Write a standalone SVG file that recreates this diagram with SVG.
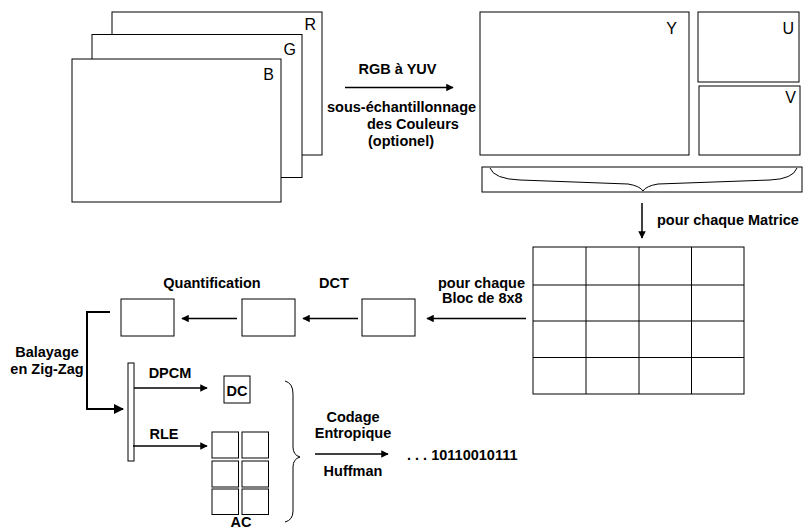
<svg xmlns="http://www.w3.org/2000/svg" width="804" height="529" viewBox="0 0 804 529">
<defs>
<style>
.box{fill:#fff;stroke:#000;stroke-width:1}
.ln{fill:none;stroke:#000;stroke-width:1}
.lbl{font-family:"Liberation Sans",Arial,sans-serif;font-size:16px;fill:#000}
.b{font-family:"Liberation Sans",Arial,sans-serif;font-size:14.5px;font-weight:bold;fill:#000}
.c{text-anchor:middle}
.arr{fill:none;stroke:#000;stroke-width:1.5;marker-end:url(#ah)}
</style>
<marker id="ah" viewBox="0 0 10 10" refX="9" refY="5" markerWidth="6.5" markerHeight="5" orient="auto" markerUnits="strokeWidth">
<path d="M0,0 L10,5 L0,10 z" fill="#000"/>
</marker>
</defs>
<rect width="804" height="529" fill="#fff"/>

<g id="rgb">
<rect class="box" x="112" y="12" width="210" height="143"/>
<text class="lbl" x="316" y="30" text-anchor="end">R</text>
<rect class="box" x="92" y="34.5" width="210" height="143"/>
<text class="lbl" x="296" y="54.5" text-anchor="end">G</text>
<rect class="box" x="72" y="59" width="209" height="143"/>
<text class="lbl" x="274" y="79.5" text-anchor="end">B</text>
</g>

<g id="yuv">
<rect class="box" x="480" y="12" width="209" height="143"/>
<text class="lbl" x="677" y="33.5" text-anchor="end">Y</text>
<rect class="box" x="698" y="12" width="101" height="70"/>
<text class="lbl" x="794" y="33.5" text-anchor="end">U</text>
<rect class="box" x="699" y="86" width="101" height="69"/>
<text class="lbl" x="796" y="103" text-anchor="end">V</text>
</g>

<g id="brace-box">
<rect class="box" x="482" y="167" width="320" height="25"/>
<path class="ln" d="M490,168 Q494,179 520,180 L628,184 Q640,186 643,191 Q646,186 658,184 L770,180 Q793,179 797,168"/>
</g>

<g id="grid">
<rect class="box" x="533" y="247" width="211" height="147"/>
<path class="ln" d="M586,247 V394 M639,247 V394 M691.5,247 V394 M533,285 H744 M533,321 H744 M533,357.5 H744"/>
</g>

<g id="block3"><rect class="box" x="362" y="299" width="53" height="37"/></g>
<g id="block2"><rect class="box" x="242" y="299" width="53" height="37"/></g>
<g id="block1"><rect class="box" x="121" y="299" width="53" height="37"/></g>

<g id="bar"><rect class="box" x="128" y="363" width="6" height="98"/></g>

<g id="dc">
<rect class="box" x="224" y="376" width="26" height="27"/>
<text class="b c" x="237" y="396">DC</text>
</g>

<g id="ac">
<rect class="box" x="212" y="432" width="26.5" height="26"/>
<rect class="box" x="242" y="432" width="26.5" height="26"/>
<rect class="box" x="212" y="461" width="26.5" height="26"/>
<rect class="box" x="242" y="461" width="26.5" height="26"/>
<rect class="box" x="212" y="489" width="26.5" height="25.5"/>
<rect class="box" x="242" y="489" width="26.5" height="25.5"/>
<text class="b c" x="241" y="527">AC</text>
</g>

<g id="big-brace">
<path class="ln" d="M285,381 Q293,383 293,394 L293,447 Q293,455 300,457 Q293,459 293,467 L293,511 Q293,520 285,522"/>
</g>

<g id="connectors">
<line class="arr" x1="345" y1="87.5" x2="453" y2="87.5"/>
<line class="arr" x1="642" y1="203" x2="642" y2="238"/>
<line class="arr" x1="526" y1="318.5" x2="427" y2="318.5"/>
<line class="arr" x1="358" y1="318.5" x2="303" y2="318.5"/>
<line class="arr" x1="237" y1="318.5" x2="182" y2="318.5"/>
<polyline points="110,312 87,312 87,409 123,409" fill="none" stroke="#000" stroke-width="2" marker-end="url(#ah)"/>
<line class="arr" x1="134" y1="388" x2="207" y2="388"/>
<line class="arr" x1="133" y1="446" x2="207" y2="446"/>
<line class="arr" x1="315" y1="454" x2="388" y2="454"/>
</g>

<g id="labels">
<text class="b c" x="397.5" y="74">RGB à YUV</text>
<text class="b" x="327" y="112">sous-échantillonnage</text>
<text class="b" x="367" y="128.5">des Couleurs</text>
<text class="b" x="368" y="145.5">(optionel)</text>
<text class="b" x="657" y="225">pour chaque Matrice</text>
<text class="b" x="438" y="288">pour chaque</text>
<text class="b" x="442" y="303">Bloc de 8x8</text>
<text class="b c" x="334" y="288">DCT</text>
<text class="b c" x="212" y="288">Quantification</text>
<text class="b c" x="47" y="357">Balayage</text>
<text class="b c" x="47" y="374">en Zig-Zag</text>
<text class="b c" x="170" y="378">DPCM</text>
<text class="b c" x="164" y="439">RLE</text>
<text class="b c" x="353" y="422">Codage</text>
<text class="b c" x="353" y="437.5">Entropique</text>
<text class="b c" x="353" y="476">Huffman</text>
<text class="b" x="407" y="459.5">. . . 10110010111</text>
</g>
</svg>
